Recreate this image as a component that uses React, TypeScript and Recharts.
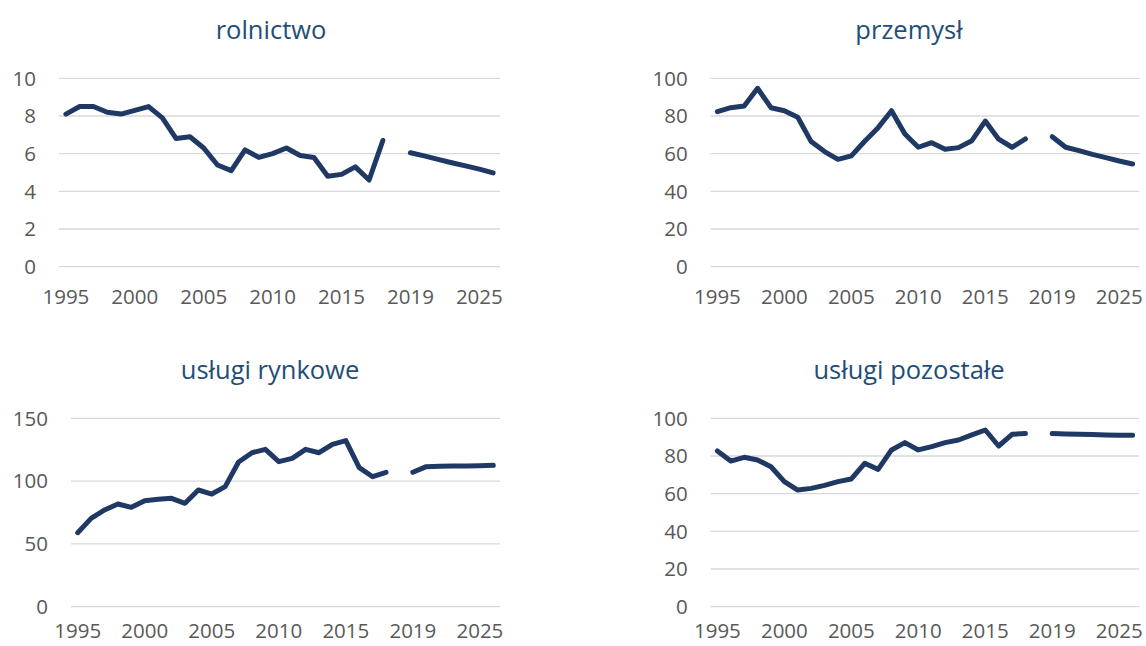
import React from "react";
import { LineChart, Line, XAxis, YAxis, CartesianGrid } from "recharts";

// categories: history 1995-2018, one empty slot, then the forecast
const YEARS_HIST = [
  "1995", "1996", "1997", "1998", "1999", "2000", "2001", "2002",
  "2003", "2004", "2005", "2006", "2007", "2008", "2009", "2010",
  "2011", "2012", "2013", "2014", "2015", "2016", "2017", "2018",
];
const YEARS_PROJ = ["2019", "2020", "2021", "2022", "2023", "2025", "2026"];

const ROLNICTWO_HIST = [
  8.1, 8.5, 8.5, 8.2, 8.1, 8.3, 8.5, 7.9, 6.8, 6.9, 6.3, 5.4,
  5.1, 6.2, 5.8, 6.0, 6.3, 5.9, 5.8, 4.8, 4.9, 5.3, 4.6, 6.7,
];
const ROLNICTWO_PROJ = [6.05, 5.88, 5.7, 5.52, 5.35, 5.18, 4.98];

const PRZEMYSL_HIST = [
  82.3, 84.4, 85.3, 94.7, 84.4, 82.8, 79.3, 66.4, 61.1, 57.0, 58.8, 66.6,
  73.8, 82.8, 70.4, 63.4, 65.8, 62.3, 63.2, 66.9, 77.3, 67.7, 63.4, 67.8,
];
const PRZEMYSL_PROJ = [69.0, 63.4, 61.6, 59.6, 57.9, 56.1, 54.5];

const RYNKOWE_HIST = [
  58.9, 70.3, 77.0, 81.8, 79.1, 84.4, 85.5, 86.3, 82.3, 92.9, 89.7, 95.6,
  115.2, 122.6, 125.3, 115.5, 118.1, 125.3, 122.6, 129.3, 132.2, 110.7, 103.5, 107.0,
];
const RYNKOWE_PROJ = [107.0, 111.5, 111.8, 112.0, 112.0, 112.3, 112.6];

const POZOSTALE_HIST = [
  82.7, 77.3, 79.3, 77.9, 74.3, 66.4, 61.9, 62.8, 64.4, 66.4, 67.8, 76.1,
  72.9, 83.2, 87.1, 83.2, 85.0, 87.1, 88.5, 91.2, 93.8, 85.3, 91.5, 91.9,
];
const POZOSTALE_PROJ = [91.9, 91.7, 91.6, 91.4, 91.2, 91.0, 91.0];

const TICKS_10 = [0, 2, 4, 6, 8, 10];
const TICKS_100 = [0, 20, 40, 60, 80, 100];
const TICKS_150 = [0, 50, 100, 150];

const LINE_COLOR = "#1F3864";
const TITLE_COLOR = "#1F4E79";
const TEXT_COLOR = "#595959";
const GRID_COLOR = "#D9D9D9";
const FONT = "'Open Sans', sans-serif";

function buildRows(hist: number[], proj: number[]) {
  const rows: { year: string; hist: number | null; proj: number | null }[] = [];
  YEARS_HIST.forEach((y, i) => rows.push({ year: y, hist: hist[i], proj: null }));
  rows.push({ year: "", hist: null, proj: null });
  YEARS_PROJ.forEach((y, i) => rows.push({ year: y, hist: null, proj: proj[i] }));
  return rows;
}

interface PanelProps {
  title: string;
  titleX: number;
  titleTop: number;
  left: number;
  top: number;
  width: number;
  height: number;
  margin: { top: number; right: number; bottom: number; left: number };
  hist: number[];
  proj: number[];
  ticks: number[];
  xTickMargin?: number;
}

function Panel({
  title, titleX, titleTop, left, top, width, height, margin, hist, proj, ticks, xTickMargin = 23,
}: PanelProps) {
  const data = buildRows(hist, proj);
  const plotW = width - margin.left - margin.right - 50;
  const pad = plotW / data.length / 2;
  const tickStyle = { fill: TEXT_COLOR, fontSize: 20.5, fontFamily: FONT };
  return (
    <>
      <div
        style={{
          position: "absolute",
          left: titleX - 150,
          top: titleTop,
          width: 300,
          textAlign: "center",
          fontFamily: FONT,
          fontSize: 25.5,
          lineHeight: "26px",
          color: TITLE_COLOR,
        }}
      >
        {title}
      </div>
      <div style={{ position: "absolute", left, top }}>
        <LineChart width={width} height={height} data={data} margin={margin}>
          <CartesianGrid vertical={false} stroke={GRID_COLOR} strokeWidth={1.3} />
          <XAxis
            dataKey="year"
            interval={4}
            axisLine={false}
            tickLine={false}
            tickSize={0}
            tickMargin={xTickMargin}
            height={40}
            padding={{ left: pad, right: pad }}
            tick={tickStyle}
          />
          <YAxis
            domain={[0, ticks[ticks.length - 1]]}
            ticks={ticks}
            axisLine={false}
            tickLine={false}
            tickSize={0}
            tickMargin={23}
            width={50}
            tick={tickStyle}
          />
          <Line
            dataKey="hist"
            stroke={LINE_COLOR}
            strokeWidth={5}
            strokeLinecap="round"
            strokeLinejoin="round"
            dot={false}
            activeDot={false}
            isAnimationActive={false}
          />
          <Line
            dataKey="proj"
            stroke={LINE_COLOR}
            strokeWidth={5}
            strokeLinecap="round"
            strokeLinejoin="round"
            dot={false}
            activeDot={false}
            isAnimationActive={false}
          />
        </LineChart>
      </div>
    </>
  );
}

export default function App() {
  return (
    <div style={{ position: "absolute", left: 0, top: 0, width: 1146, height: 646, background: "#fff", overflow: "hidden" }}>
      <Panel
        title="rolnictwo"
        titleX={271}
        titleTop={16}
        left={0}
        top={0}
        width={540}
        height={330}
        margin={{ top: 78.3, right: 40, bottom: 23.3, left: 9 }}
        hist={ROLNICTWO_HIST}
        proj={ROLNICTWO_PROJ}
        ticks={TICKS_10}
      />
      <Panel
        title="przemysł"
        titleX={909}
        titleTop={16}
        left={580}
        top={0}
        width={566}
        height={330}
        margin={{ top: 78.3, right: 6.7, bottom: 23.3, left: 80.7 }}
        hist={PRZEMYSL_HIST}
        proj={PRZEMYSL_PROJ}
        ticks={TICKS_100}
      />
      <Panel
        title="usługi rynkowe"
        titleX={270}
        titleTop={356}
        left={0}
        top={340}
        width={540}
        height={306}
        margin={{ top: 78.3, right: 40, bottom: -0.7, left: 21 }}
        hist={RYNKOWE_HIST}
        proj={RYNKOWE_PROJ}
        ticks={TICKS_150}
        xTickMargin={17}
      />
      <Panel
        title="usługi pozostałe"
        titleX={909}
        titleTop={356}
        left={580}
        top={340}
        width={566}
        height={306}
        margin={{ top: 78.3, right: 6.7, bottom: -0.7, left: 80.7 }}
        hist={POZOSTALE_HIST}
        proj={POZOSTALE_PROJ}
        ticks={TICKS_100}
        xTickMargin={17}
      />
    </div>
  );
}
